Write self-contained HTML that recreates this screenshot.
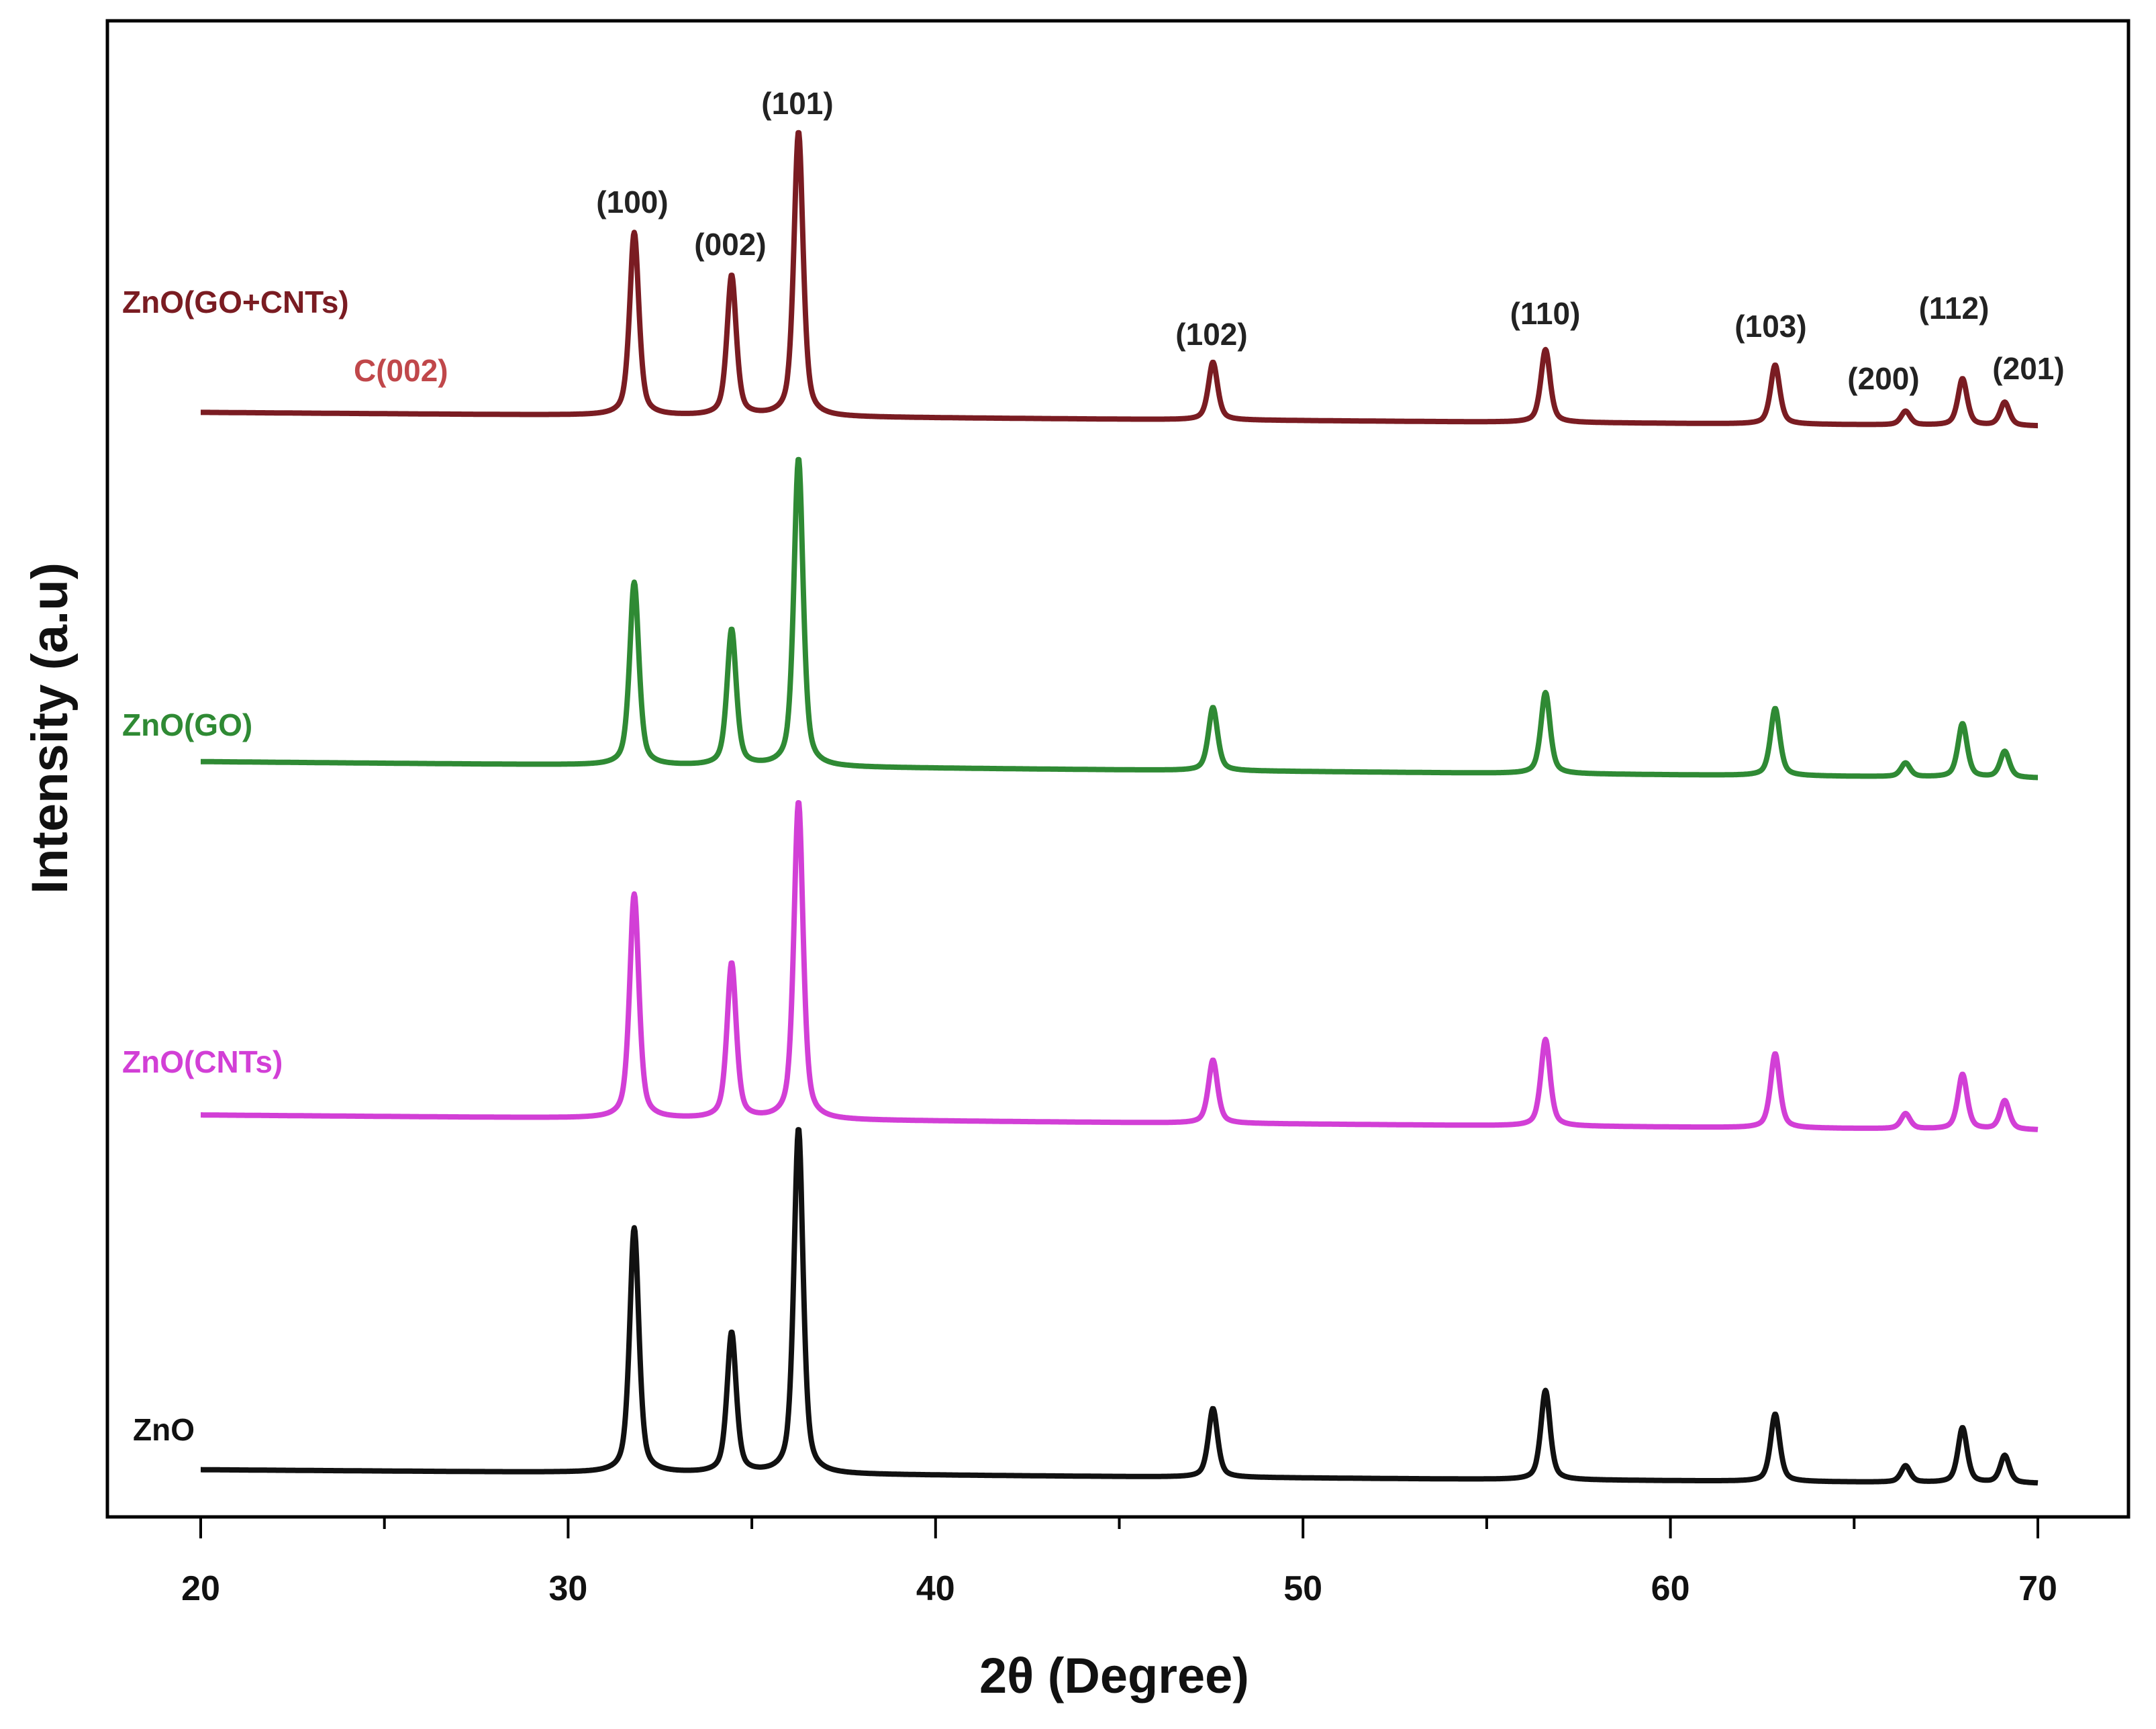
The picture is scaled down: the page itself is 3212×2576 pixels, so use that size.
<!DOCTYPE html>
<html><head><meta charset="utf-8"><style>
html,body{margin:0;padding:0;background:#fff;}
svg{display:block;}
text{font-family:"Liberation Sans",sans-serif;font-weight:bold;}
</style></head><body>
<svg id="chart" width="3212" height="2576" viewBox="0 0 3212 2576" xmlns="http://www.w3.org/2000/svg">
<rect x="0" y="0" width="3212" height="2576" fill="#fff"/>
<rect x="160" y="31" width="3011" height="2229" fill="none" stroke="#000" stroke-width="5"/>
<g id="ticks"></g>
<g id="series"></g>
<g id="labels"></g>
<text x="0" y="0" transform="translate(100,1085) rotate(-90)" text-anchor="middle" font-size="76" fill="#111">Intensity (a.u)</text>
<text x="1660" y="2522" text-anchor="middle" font-size="74" fill="#111">2θ (Degree)</text>
</svg>
<script>
// data
const xTicks = [20, 30, 40, 50, 60, 70];
const xMinorTicks = [25, 35, 45, 55, 65];
const peakPos = [31.8, 34.45, 36.27, 47.55, 56.6, 62.85, 66.4, 67.95, 69.1];
const peakNames = ["(100)", "(002)", "(101)", "(102)", "(110)", "(103)", "(200)", "(112)", "(201)"];
const seriesNames = ["ZnO", "ZnO(CNTs)", "ZnO(GO)", "ZnO(GO+CNTs)"];
const seriesOffsets = [0, 258, 514, 770];
const bgStart = [6, 6, 7, 5];
const bgEnd = [-4, -5, -5, -5];
const hZnO = [178, 102, 251, 50, 65, 49, 12, 40, 20];
const hCNT = [163, 113, 231, 46, 63, 54, 11, 40, 21];
const hGO = [133, 99, 224, 46, 59, 49, 10, 39, 19];
const hGOCNT = [133, 102, 207, 42, 53, 43, 10, 34, 17];
const seriesColors = ["#111111", "#d23fd6", "#2f8a34", "#7a1c22"];

const NS = "http://www.w3.org/2000/svg";
const X0 = 299, X1 = 3036, D0 = 20, D1 = 70;
function xs(d){ return X0 + (d - D0) * (X1 - X0) / (D1 - D0); }
const YB = 2202, K = 2.0485;
function ys(v){ return YB - v * K; }

const tk = document.getElementById('ticks');
xTicks.forEach(t => {
  const l = document.createElementNS(NS, 'line');
  
  
  l.setAttribute('x1', xs(t)); l.setAttribute('x2', xs(t));
  l.setAttribute('y1', 2260); l.setAttribute('y2', 2292);
  l.setAttribute('stroke', '#000'); l.setAttribute('stroke-width', 4);
  tk.appendChild(l);
  const tx = document.createElementNS(NS, 'text');
  
  
  tx.setAttribute('x', xs(t)); tx.setAttribute('y', 2384);
  tx.setAttribute('text-anchor', 'middle'); tx.setAttribute('font-size', 52);
  tx.setAttribute('fill', '#111');
  tx.textContent = t;
  tk.appendChild(tx);
});
xMinorTicks.forEach(t => {
  const l = document.createElementNS(NS, 'line');
  
  
  l.setAttribute('x1', xs(t)); l.setAttribute('x2', xs(t));
  l.setAttribute('y1', 2260); l.setAttribute('y2', 2278);
  l.setAttribute('stroke', '#000'); l.setAttribute('stroke-width', 4);
  tk.appendChild(l);
});

const heights = [hZnO, hCNT, hGO, hGOCNT];
const sg = document.getElementById('series');
heights.forEach((hs, si) => {
  let d = '';
  for (let a = 20; a <= 70.0001; a += 0.02) {
    let v = seriesOffsets[si] + bgStart[si] + (bgEnd[si] - bgStart[si]) * (a - 20) / 50;
    for (let p = 0; p < peakPos.length; p++) {
      const w = 0.15;
      const dx = (a - peakPos[p]) / w;
      v += hs[p] * (0.55 / (1 + dx * dx) + 0.45 * Math.exp(-0.693 * dx * dx));
    }
    d += (d ? 'L' : 'M') + xs(a).toFixed(1) + ' ' + ys(v).toFixed(1);
  }
  const path = document.createElementNS(NS, 'path');
  
  
  path.setAttribute('d', d);
  path.setAttribute('fill', 'none');
  path.setAttribute('stroke', seriesColors[si]);
  path.setAttribute('stroke-width', 8);
  path.setAttribute('stroke-linejoin', 'round');
  sg.appendChild(path);
});

const lg = document.getElementById('labels');
const seriesLabelPos = [[198, 2146], [182, 1598], [182, 1096], [182, 466]];
seriesNames.forEach((n, i) => {
  const t = document.createElementNS(NS, 'text');
  
  
  t.setAttribute('x', seriesLabelPos[i][0]); t.setAttribute('y', seriesLabelPos[i][1]);
  t.setAttribute('font-size', 46);
  t.setAttribute('fill', seriesColors[i]);
  t.textContent = n;
  lg.appendChild(t);
});
const c = document.createElementNS(NS, 'text');


c.setAttribute('x', 527); c.setAttribute('y', 568);
c.setAttribute('font-size', 46); c.setAttribute('fill', '#c0474a');
c.textContent = 'C(002)';
lg.appendChild(c);

const peakLabelPos = [[942, 317], [1088, 380], [1188, 170], [1805, 514], [2302, 483], [2638, 502], [2806, 580], [2911, 475], [3022, 565]];
peakNames.forEach((n, i) => {
  const t = document.createElementNS(NS, 'text');
  
  
  t.setAttribute('x', peakLabelPos[i][0]); t.setAttribute('y', peakLabelPos[i][1]);
  t.setAttribute('text-anchor', 'middle');
  t.setAttribute('font-size', 46); t.setAttribute('fill', '#222');
  t.textContent = n;
  lg.appendChild(t);
});
</script>
</body></html>
